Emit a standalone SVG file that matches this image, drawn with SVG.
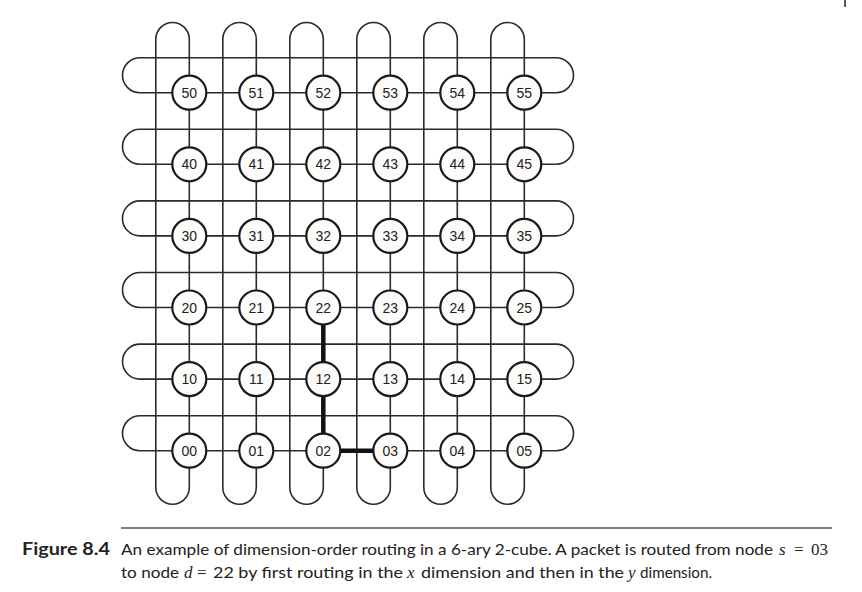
<svg xmlns="http://www.w3.org/2000/svg" width="862" height="592" viewBox="0 0 862 592">
<style>
.loop{fill:none;stroke:#2a2a2a;stroke-width:1.6}
.route{fill:none;stroke:#111;stroke-width:4.5;stroke-linecap:butt;stroke-linejoin:miter}
.node circle{fill:#fdfcfa;stroke:#1a1a1a;stroke-width:2.2}
.node text{font-family:"Liberation Sans",Arial,sans-serif;font-size:14px;fill:#222;text-anchor:middle}
.cap{font-family:Lato,"Open Sans",sans-serif;font-size:16px;fill:#222}
.capb{font-family:Lato,"Open Sans",sans-serif;font-size:16.5px;font-weight:bold;fill:#222}
.math{font-family:"Liberation Serif","Times New Roman",serif;font-size:17px;font-style:normal}
.mathi{font-family:"Liberation Serif","Times New Roman",serif;font-size:17px;font-style:italic}
</style>
<rect width="862" height="592" fill="#ffffff"/>
<line x1="845" y1="0" x2="845" y2="7" stroke="#222" stroke-width="1.5"/>
<g id="connectors">
<path class="loop" d="M140,92.7 L556,92.7 A17.5,17.5 0 0 0 556,57.7 L140,57.7 A17.5,17.5 0 0 0 140,92.7 Z"/>
<path class="loop" d="M140,164.3 L556,164.3 A17.5,17.5 0 0 0 556,129.3 L140,129.3 A17.5,17.5 0 0 0 140,164.3 Z"/>
<path class="loop" d="M140,235.9 L556,235.9 A17.5,17.5 0 0 0 556,200.9 L140,200.9 A17.5,17.5 0 0 0 140,235.9 Z"/>
<path class="loop" d="M140,307.5 L556,307.5 A17.5,17.5 0 0 0 556,272.5 L140,272.5 A17.5,17.5 0 0 0 140,307.5 Z"/>
<path class="loop" d="M140,379.1 L556,379.1 A17.5,17.5 0 0 0 556,344.1 L140,344.1 A17.5,17.5 0 0 0 140,379.1 Z"/>
<path class="loop" d="M140,450.7 L556,450.7 A17.5,17.5 0 0 0 556,415.7 L140,415.7 A17.5,17.5 0 0 0 140,450.7 Z"/>
<path class="loop" d="M189.3,39.2 L189.3,487.5 A16.75,16.75 0 0 1 155.8,487.5 L155.8,39.2 A16.75,16.75 0 0 1 189.3,39.2 Z"/>
<path class="loop" d="M256.3,39.2 L256.3,487.5 A16.75,16.75 0 0 1 222.8,487.5 L222.8,39.2 A16.75,16.75 0 0 1 256.3,39.2 Z"/>
<path class="loop" d="M323.3,39.2 L323.3,487.5 A16.75,16.75 0 0 1 289.8,487.5 L289.8,39.2 A16.75,16.75 0 0 1 323.3,39.2 Z"/>
<path class="loop" d="M390.3,39.2 L390.3,487.5 A16.75,16.75 0 0 1 356.8,487.5 L356.8,39.2 A16.75,16.75 0 0 1 390.3,39.2 Z"/>
<path class="loop" d="M457.3,39.2 L457.3,487.5 A16.75,16.75 0 0 1 423.8,487.5 L423.8,39.2 A16.75,16.75 0 0 1 457.3,39.2 Z"/>
<path class="loop" d="M524.3,39.2 L524.3,487.5 A16.75,16.75 0 0 1 490.8,487.5 L490.8,39.2 A16.75,16.75 0 0 1 524.3,39.2 Z"/>
<path class="route" d="M323.3,307.5 L323.3,450.7 L390.3,450.7"/>
</g>
<g id="n50" class="node"><circle cx="189.3" cy="92.7" r="17"/><text x="189.3" y="97.7">50</text></g>
<g id="n51" class="node"><circle cx="256.3" cy="92.7" r="17"/><text x="256.3" y="97.7">51</text></g>
<g id="n52" class="node"><circle cx="323.3" cy="92.7" r="17"/><text x="323.3" y="97.7">52</text></g>
<g id="n53" class="node"><circle cx="390.3" cy="92.7" r="17"/><text x="390.3" y="97.7">53</text></g>
<g id="n54" class="node"><circle cx="457.3" cy="92.7" r="17"/><text x="457.3" y="97.7">54</text></g>
<g id="n55" class="node"><circle cx="524.3" cy="92.7" r="17"/><text x="524.3" y="97.7">55</text></g>
<g id="n40" class="node"><circle cx="189.3" cy="164.3" r="17"/><text x="189.3" y="169.3">40</text></g>
<g id="n41" class="node"><circle cx="256.3" cy="164.3" r="17"/><text x="256.3" y="169.3">41</text></g>
<g id="n42" class="node"><circle cx="323.3" cy="164.3" r="17"/><text x="323.3" y="169.3">42</text></g>
<g id="n43" class="node"><circle cx="390.3" cy="164.3" r="17"/><text x="390.3" y="169.3">43</text></g>
<g id="n44" class="node"><circle cx="457.3" cy="164.3" r="17"/><text x="457.3" y="169.3">44</text></g>
<g id="n45" class="node"><circle cx="524.3" cy="164.3" r="17"/><text x="524.3" y="169.3">45</text></g>
<g id="n30" class="node"><circle cx="189.3" cy="235.9" r="17"/><text x="189.3" y="240.9">30</text></g>
<g id="n31" class="node"><circle cx="256.3" cy="235.9" r="17"/><text x="256.3" y="240.9">31</text></g>
<g id="n32" class="node"><circle cx="323.3" cy="235.9" r="17"/><text x="323.3" y="240.9">32</text></g>
<g id="n33" class="node"><circle cx="390.3" cy="235.9" r="17"/><text x="390.3" y="240.9">33</text></g>
<g id="n34" class="node"><circle cx="457.3" cy="235.9" r="17"/><text x="457.3" y="240.9">34</text></g>
<g id="n35" class="node"><circle cx="524.3" cy="235.9" r="17"/><text x="524.3" y="240.9">35</text></g>
<g id="n20" class="node"><circle cx="189.3" cy="307.5" r="17"/><text x="189.3" y="312.5">20</text></g>
<g id="n21" class="node"><circle cx="256.3" cy="307.5" r="17"/><text x="256.3" y="312.5">21</text></g>
<g id="n22" class="node"><circle cx="323.3" cy="307.5" r="17"/><text x="323.3" y="312.5">22</text></g>
<g id="n23" class="node"><circle cx="390.3" cy="307.5" r="17"/><text x="390.3" y="312.5">23</text></g>
<g id="n24" class="node"><circle cx="457.3" cy="307.5" r="17"/><text x="457.3" y="312.5">24</text></g>
<g id="n25" class="node"><circle cx="524.3" cy="307.5" r="17"/><text x="524.3" y="312.5">25</text></g>
<g id="n10" class="node"><circle cx="189.3" cy="379.1" r="17"/><text x="189.3" y="384.1">10</text></g>
<g id="n11" class="node"><circle cx="256.3" cy="379.1" r="17"/><text x="256.3" y="384.1">11</text></g>
<g id="n12" class="node"><circle cx="323.3" cy="379.1" r="17"/><text x="323.3" y="384.1">12</text></g>
<g id="n13" class="node"><circle cx="390.3" cy="379.1" r="17"/><text x="390.3" y="384.1">13</text></g>
<g id="n14" class="node"><circle cx="457.3" cy="379.1" r="17"/><text x="457.3" y="384.1">14</text></g>
<g id="n15" class="node"><circle cx="524.3" cy="379.1" r="17"/><text x="524.3" y="384.1">15</text></g>
<g id="n00" class="node"><circle cx="189.3" cy="450.7" r="17"/><text x="189.3" y="455.7">00</text></g>
<g id="n01" class="node"><circle cx="256.3" cy="450.7" r="17"/><text x="256.3" y="455.7">01</text></g>
<g id="n02" class="node"><circle cx="323.3" cy="450.7" r="17"/><text x="323.3" y="455.7">02</text></g>
<g id="n03" class="node"><circle cx="390.3" cy="450.7" r="17"/><text x="390.3" y="455.7">03</text></g>
<g id="n04" class="node"><circle cx="457.3" cy="450.7" r="17"/><text x="457.3" y="455.7">04</text></g>
<g id="n05" class="node"><circle cx="524.3" cy="450.7" r="17"/><text x="524.3" y="455.7">05</text></g>
<g id="caption">
<line x1="121" y1="528" x2="832" y2="528" stroke="#555" stroke-width="1.5"/>
<text class="capb" x="22" y="555" textLength="88" lengthAdjust="spacingAndGlyphs">Figure 8.4</text>
<text class="cap" y="555"><tspan x="121" textLength="652" lengthAdjust="spacingAndGlyphs">An example of dimension-order routing in a 6-ary 2-cube. A packet is routed from node</tspan><tspan class="mathi" x="779">s</tspan><tspan class="math" x="794">=</tspan><tspan class="math" x="811">03</tspan></text>
<text class="cap" y="578"><tspan x="121" textLength="58" lengthAdjust="spacingAndGlyphs">to node</tspan><tspan class="mathi" x="184">d</tspan><tspan class="math" x="197">=</tspan><tspan x="213" textLength="190" lengthAdjust="spacingAndGlyphs">22 by first routing in the</tspan><tspan class="mathi" x="407">x</tspan><tspan x="421" textLength="203" lengthAdjust="spacingAndGlyphs">dimension and then in the</tspan><tspan class="mathi" x="628">y</tspan><tspan x="640" textLength="72" lengthAdjust="spacingAndGlyphs">dimension.</tspan></text>
</g>
</svg>
